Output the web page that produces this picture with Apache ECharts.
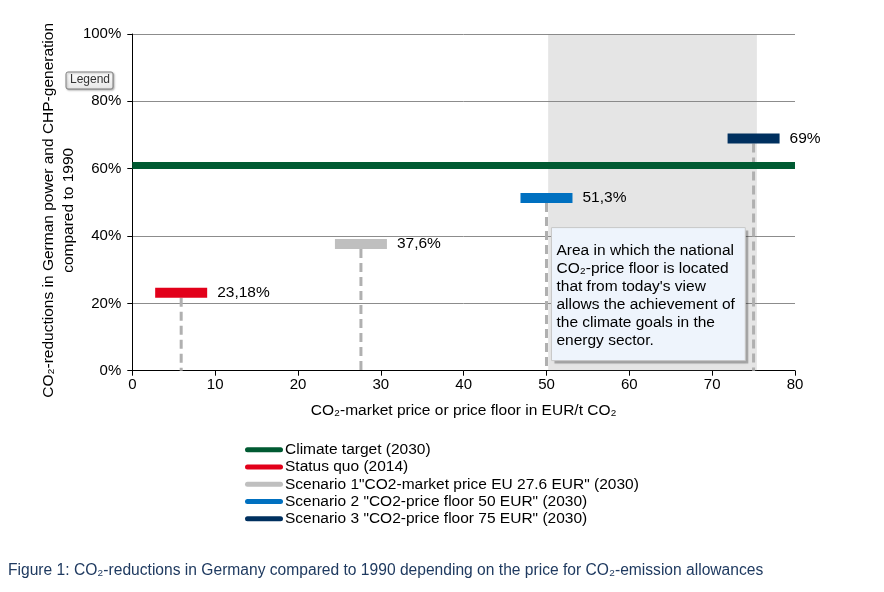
<!DOCTYPE html>
<html>
<head>
<meta charset="utf-8">
<script src="https://cdn.jsdelivr.net/npm/echarts@6/dist/echarts.min.js"></script>
<style>html,body{margin:0;padding:0;background:#fff}#c{width:884px;height:592px}</style>
</head>
<body>
<div id="c"></div>
<script>
// ---- data ----
const seriesNames = ['Climate target (2030)', 'Status quo (2014)', 'Scenario 1"CO2-market price EU 27.6 EUR" (2030)', 'Scenario 2 "CO2-price floor 50 EUR" (2030)', 'Scenario 3 "CO2-price floor 75 EUR" (2030)'];
const climateTarget = 61;
const prices = [5.9, 27.6, 50, 75];          // EUR/t CO2
const reductions = [23.18, 37.6, 51.3, 69];  // %
const valueLabels = ['23,18%', '37,6%', '51,3%', '69%'];
const shadeRange = [50.2, 75.4];
const xTicks = [0, 10, 20, 30, 40, 50, 60, 70, 80];
const yTicks = [0, 20, 40, 60, 80, 100];

const colors = ['#005a32', '#e2001a', '#bfbfbf', '#0070c0', '#00305f'];
const FONT = "'Liberation Sans', Arial, sans-serif";

const chart = echarts.init(document.getElementById('c'));

function scenarioSeries(i) {
  const idx = i - 1;
  return {
    name: seriesNames[i],
    type: 'custom',
    z: 3,
    itemStyle: { color: colors[i] },
    data: [[prices[idx], reductions[idx]]],
    renderItem: function (params, api) {
      const p = api.coord([api.value(0), api.value(1)]);
      const p0 = api.coord([api.value(0), 0]);
      return {
        type: 'group',
        children: [
          { type: 'line', shape: { x1: p[0], y1: p[1] + 5, x2: p0[0], y2: p0[1] },
            style: { stroke: '#b0b0b0', lineWidth: 3, lineDash: [9, 5] } },
          { type: 'rect', shape: { x: p[0] - 26, y: p[1] - 5, width: 52, height: 10 },
            style: { fill: colors[i] } },
          { type: 'text', style: { x: p[0] + 36, y: p[1], text: valueLabels[idx],
            fill: '#000', font: '15.5px ' + FONT, textVerticalAlign: 'middle', textAlign: 'left' } }
        ]
      };
    }
  };
}

const option = {
  animation: false,
  textStyle: { fontFamily: FONT },
  grid: { left: 132.3, right: 89, top: 34, bottom: 221.3 },
  xAxis: {
    type: 'value', min: xTicks[0], max: xTicks[xTicks.length - 1], interval: 10,
    name: 'CO₂-market price or price floor in EUR/t CO₂',
    nameLocation: 'middle', nameGap: 32, nameMoveOverlap: false,
    nameTextStyle: { fontSize: 15.5, color: '#000' },
    axisLine: { lineStyle: { color: '#000', width: 1 } },
    axisTick: { show: true, length: 5, lineStyle: { color: '#000' } },
    axisLabel: { fontSize: 15, color: '#000', margin: 7 },
    splitLine: { show: false }
  },
  yAxis: {
    type: 'value', min: yTicks[0], max: yTicks[yTicks.length - 1], interval: 20,
    name: 'CO₂-reductions in German power and CHP-generation\ncompared to 1990',
    nameLocation: 'middle', nameGap: 54, nameMoveOverlap: false,
    nameTextStyle: { fontSize: 15.5, color: '#000', lineHeight: 20, align: 'center', padding: [0, 16, 0, 0] },
    axisLine: { show: true, lineStyle: { color: '#000', width: 1 } },
    axisTick: { show: true, length: 5, lineStyle: { color: '#000' } },
    axisLabel: { fontSize: 15, color: '#000', margin: 11, formatter: '{value}%' },
    splitLine: { show: true, lineStyle: { color: '#8c8c8c', width: 1 } }
  },
  legend: {
    orient: 'vertical', left: 240, top: 436,
    itemWidth: 38, itemHeight: 5, itemGap: 0,
    icon: 'path://M2.5,0H35.5A2.5,2.5,0,0,1,35.5,5H2.5A2.5,2.5,0,0,1,2.5,0Z',
    textStyle: { fontSize: 15.5, color: '#000', lineHeight: 17.3, padding: [0, 0, 0, -3], fontFamily: FONT },
    selectedMode: false,
    data: seriesNames
  },
  series: [
    {
      name: seriesNames[0], type: 'line', z: 2, data: [],
      itemStyle: { color: colors[0] }, lineStyle: { color: colors[0] },
      markLine: {
        silent: true, symbol: ['none', 'none'], label: { show: false },
        lineStyle: { color: colors[0], width: 7, type: 'solid' },
        data: [{ yAxis: climateTarget }]
      }
    },
    scenarioSeries(1), scenarioSeries(2), scenarioSeries(3), scenarioSeries(4),
    {
      name: 'shade', type: 'line', z: 5, data: [],
      markArea: {
        silent: true,
        itemStyle: { color: 'rgba(134,134,134,0.21)' },
        data: [[{ xAxis: shadeRange[0], yAxis: yTicks[yTicks.length - 1] }, { xAxis: shadeRange[1], yAxis: yTicks[0] }]]
      }
    }
  ]
};
chart.setOption(option);

// annotation box, positioned from data coordinates
const tl = chart.convertToPixel({ gridIndex: 0 }, [50.6, 42.5]);
const br = chart.convertToPixel({ gridIndex: 0 }, [74, 3]);
chart.setOption({
  graphic: [
    { type: 'rect', z: 100, shape: { x: tl[0] + 3, y: tl[1] + 3, width: br[0] - tl[0], height: br[1] - tl[1] },
      style: { fill: 'rgba(0,0,0,0.25)', shadowBlur: 3, shadowColor: 'rgba(0,0,0,0.3)' } },
    { type: 'rect', z: 101, shape: { x: tl[0], y: tl[1], width: br[0] - tl[0], height: br[1] - tl[1] },
      style: { fill: '#eef4fc', stroke: '#c8c8c8', lineWidth: 1 } },
    { type: 'text', z: 102, left: tl[0] + 5, top: tl[1] + 14,
      style: { text: "Area in which the national\nCO₂-price floor is located\nthat from today's view\nallows the achievement of\nthe climate goals in the\nenergy sector.",
        font: '15.5px ' + FONT, fill: '#000', lineHeight: 18 } },
    // "Legend" button
    { type: 'rect', z: 100, shape: { x: 66, y: 72, width: 47, height: 17, r: 2 },
      style: { fill: new echarts.graphic.LinearGradient(0, 0, 0, 1, [{ offset: 0, color: '#ffffff' }, { offset: 1, color: '#e6e6e6' }]),
        stroke: '#7f7f7f', lineWidth: 1, shadowBlur: 2, shadowOffsetX: 1, shadowOffsetY: 1, shadowColor: 'rgba(0,0,0,0.3)' } },
    { type: 'text', z: 101, left: 70, top: 74,
      style: { text: 'Legend', font: '12px ' + FONT, fill: '#333' } },
    // caption
    { type: 'text', left: 8, top: 563, scaleX: 0.975,
      style: { text: 'Figure 1: CO₂-reductions in Germany compared to 1990 depending on the price for CO₂-emission allowances',
        font: '16px ' + FONT, fill: '#1f3a60' } }
  ]
});
</script>
</body>
</html>
